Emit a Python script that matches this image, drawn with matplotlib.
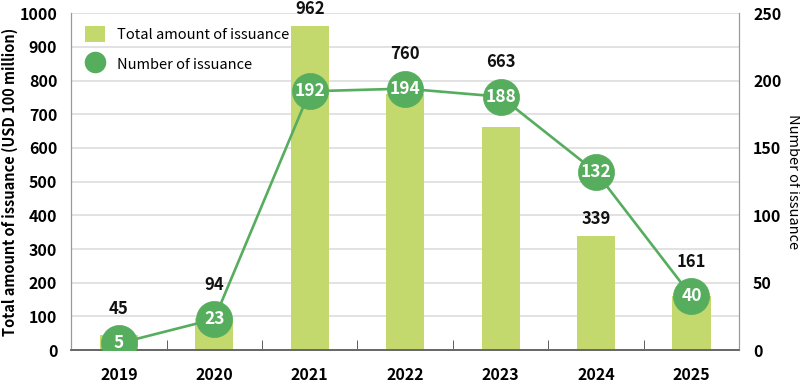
import matplotlib
matplotlib.use("Agg")
import matplotlib.pyplot as plt
from matplotlib.lines import Line2D
from matplotlib.patches import Patch

# data
years = ["2019", "2020", "2021", "2022", "2023", "2024", "2025"]
amount = [45, 94, 962, 760, 663, 339, 161]
count = [5, 23, 192, 194, 188, 132, 40]

bar_color = "#c3d96e"
line_color = "#55ad5d"
plt.rcParams['font.family'] = ['Noto Sans CJK JP', 'DejaVu Sans']

fig = plt.figure(figsize=(8, 3.86), dpi=100)
ax = fig.add_axes([0.089, 0.093, 0.835, 0.873])
ax2 = ax.twinx()

x = list(range(len(years)))
ax.bar(x, amount, width=0.4, color=bar_color, zorder=2)

ax2.plot(x, count, color=line_color, lw=1.9, marker="o", markersize=26,
         markerfacecolor=line_color, markeredgecolor=line_color,
         markeredgewidth=0.5, zorder=3)
for xi, v in zip(x, count):
    ax2.text(xi, v, str(v), ha="center", va="center", fontsize=12.5,
             fontweight="bold", color="white", zorder=4)

ax.set_xlim(-0.5, len(years) - 0.5)
ax.set_ylim(0, 1000)
ax2.set_ylim(0, 250)

# amount labels sit above the bar, or above the marker when it covers the bar top
marker_r = 53  # marker radius in left-axis units
for xi, a, c in zip(x, amount, count):
    m = c * 4
    top = a
    if m + marker_r > a and m - marker_r < a + 60:
        top = m + marker_r
    ax2.annotate(str(a), xy=(xi, top), xycoords=ax.transData,
                 xytext=(0, 12), textcoords="offset points",
                 ha="center", va="center", fontsize=12, fontweight="bold",
                 color="#111111", zorder=5)

ax.set_yticks(range(0, 1001, 100))
ax2.set_yticks(range(0, 251, 50))
ax.set_xticks(x)
ax.set_xticklabels(years)
ax.set_xticks([i + 0.5 for i in x[:-1]], minor=True)
ax.tick_params(axis="x", which="major", length=0, pad=12.5, labelsize=11.5)
ax.tick_params(axis="x", which="minor", direction="in", length=7,
               color="#444444")
for lbl in ax.get_xticklabels():
    lbl.set_fontweight("bold")
ax.tick_params(axis="y", length=0, labelsize=11.5, pad=10)
ax2.tick_params(axis="y", length=0, labelsize=11.5, pad=10)
for lbl in ax.get_yticklabels() + ax2.get_yticklabels():
    lbl.set_fontweight("bold")

ax.grid(axis="y", color="#e2e2e2", lw=1.4, zorder=0)
ax.set_axisbelow(True)
for a in (ax, ax2):
    a.spines["top"].set_visible(False)
    a.spines["left"].set_color("#999999")
    a.spines["right"].set_color("#999999")
    a.spines["bottom"].set_color("#666666")
    a.spines["bottom"].set_linewidth(1.2)

ax.set_ylabel("Total amount of issuance (USD 100 million)", fontsize=10.5,
              fontweight="bold", labelpad=1)
ax2.set_ylabel("Number of issuance", fontsize=10.5, rotation=-90,
               labelpad=13)

handles = [Patch(facecolor=bar_color, edgecolor="none"),
           Line2D([], [], marker="o", color="none", markerfacecolor=line_color,
                  markeredgecolor=line_color, markersize=14.5)]
ax.legend(handles, ["Total amount of issuance", "Number of issuance"],
          loc="upper left", bbox_to_anchor=(0.021, 0.962), frameon=False,
          fontsize=10.5, handlelength=1.35, handleheight=1.35,
          labelspacing=0.92, handletextpad=0.8, borderpad=0,
          borderaxespad=0)

fig.savefig("out.png", dpi=100)
